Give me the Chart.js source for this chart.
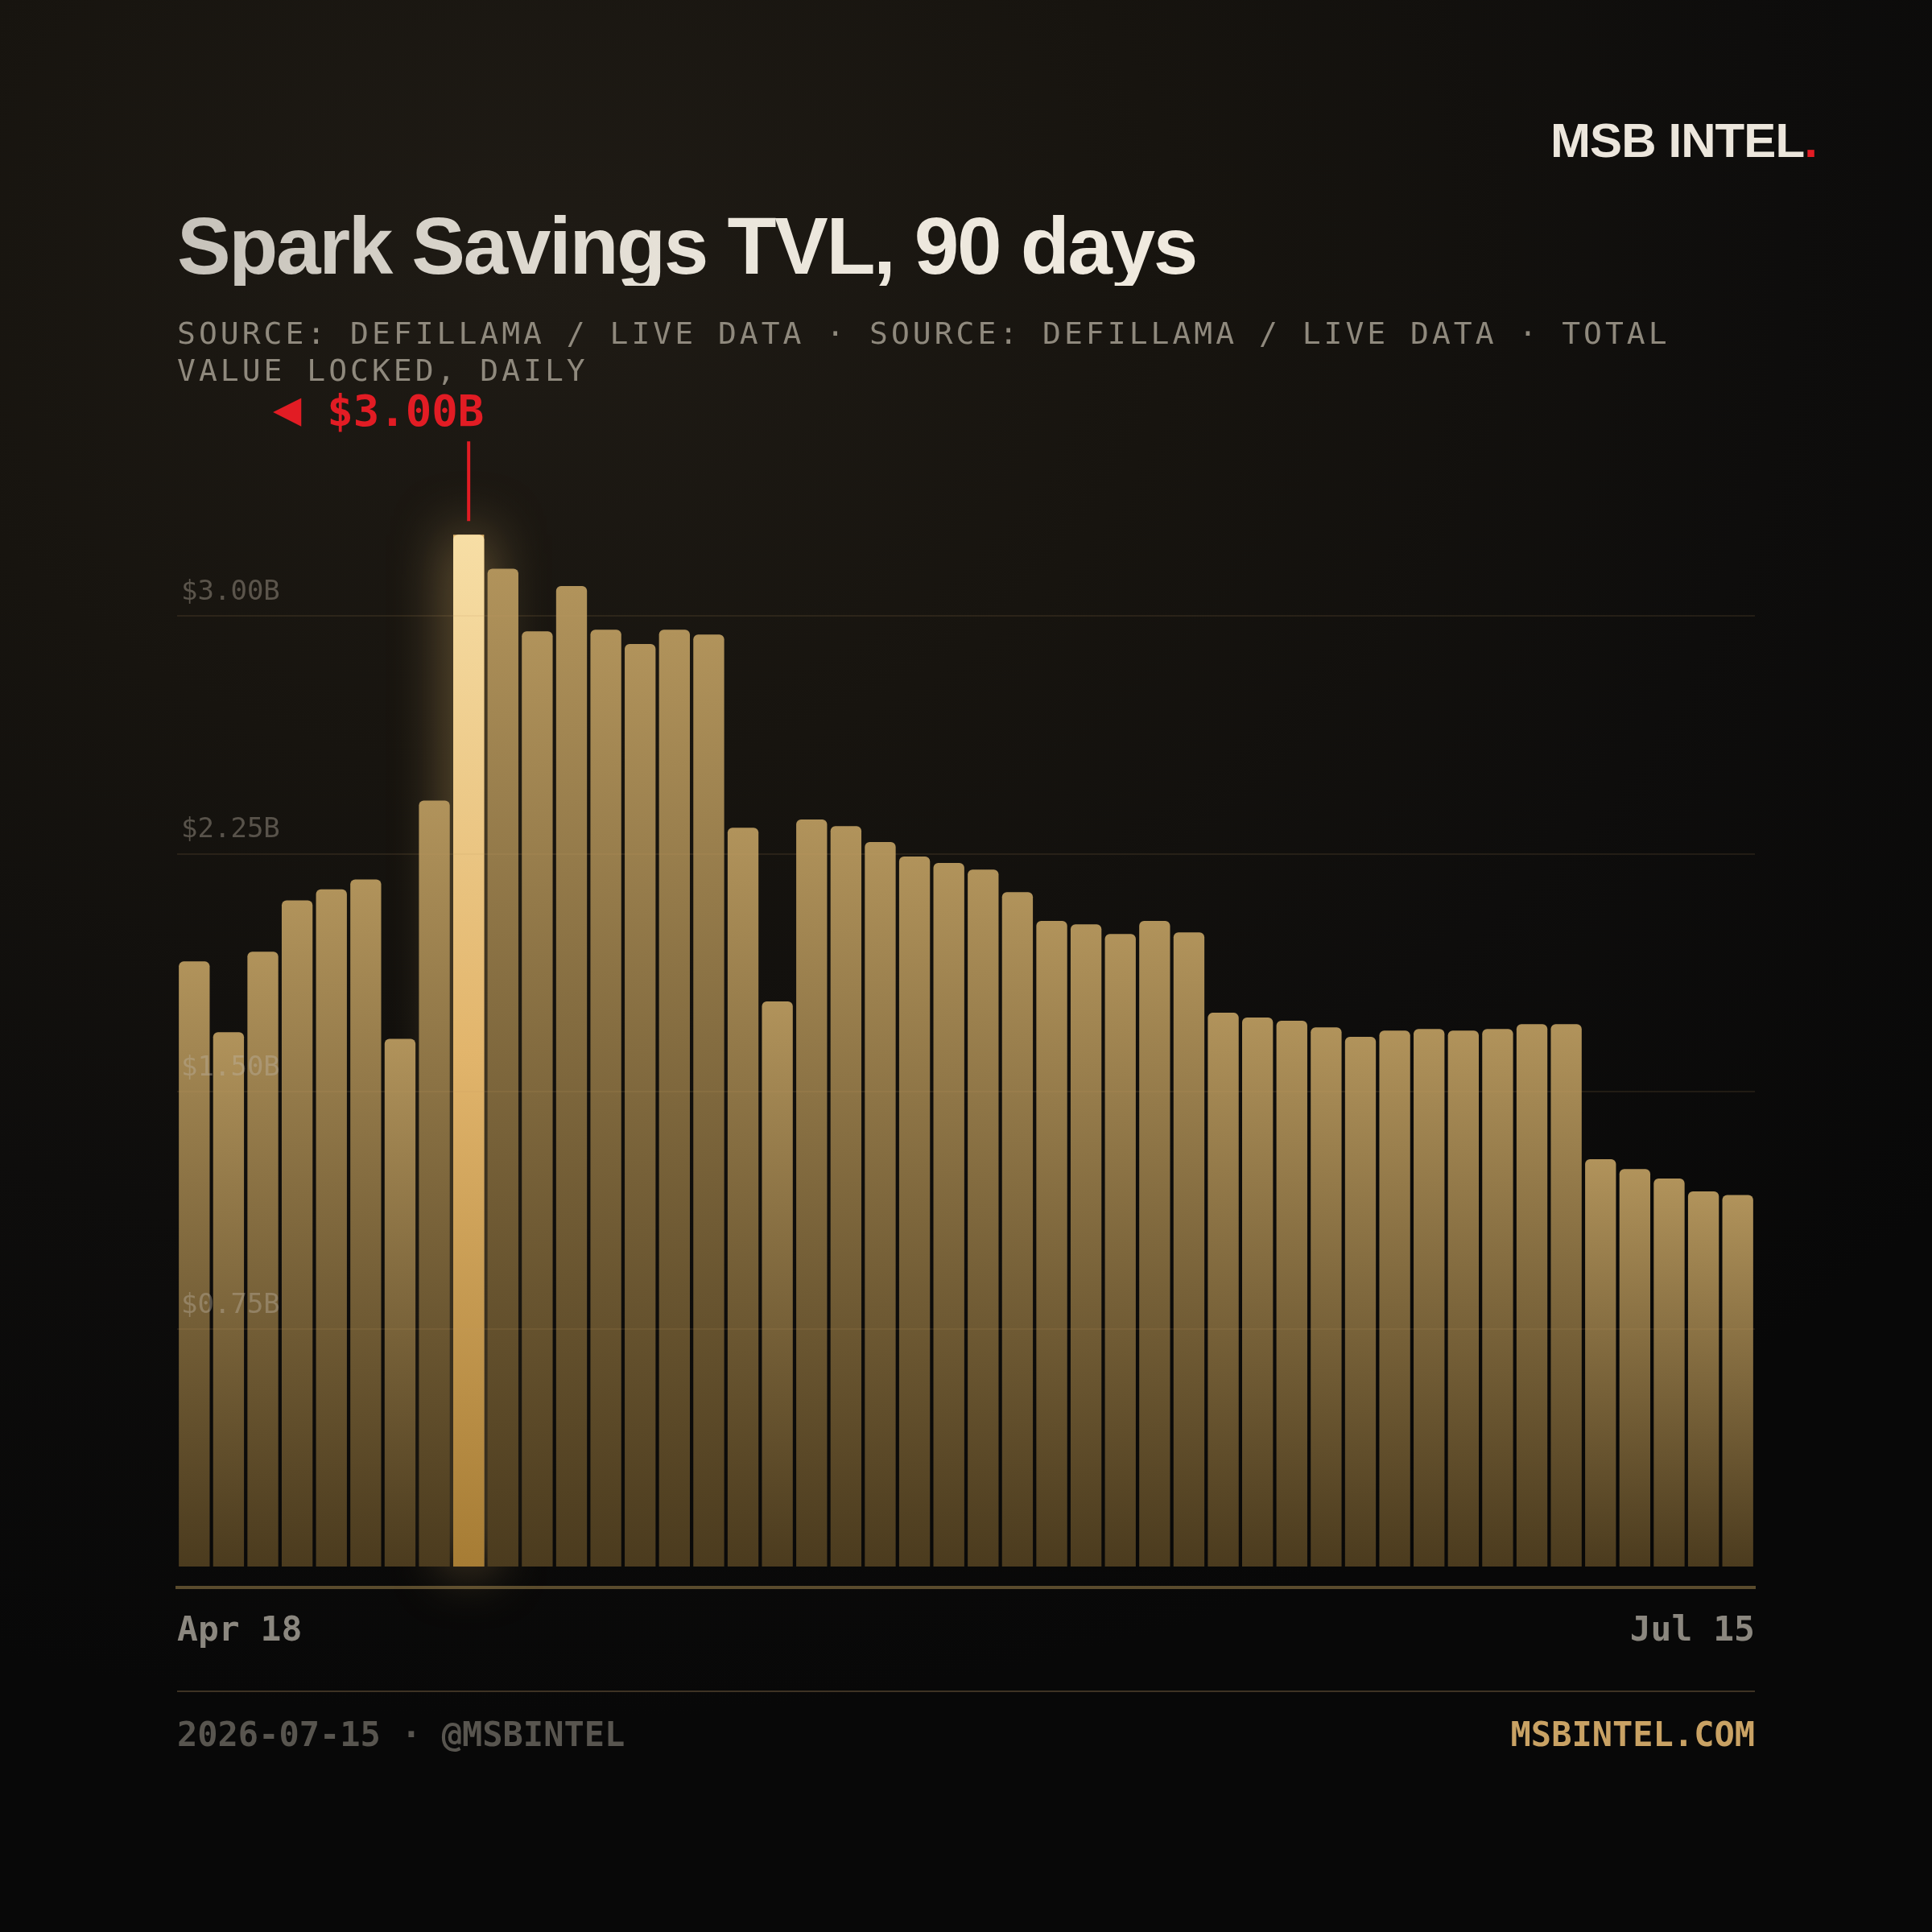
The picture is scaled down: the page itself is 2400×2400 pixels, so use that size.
<!DOCTYPE html>
<html>
<head>
<meta charset="utf-8">
<script src="https://cdn.jsdelivr.net/npm/chart.js@4.4.0/dist/chart.umd.js"></script>
<style>
    html, body {
        margin: 0;
        padding: 0;
    }
    body {
        width: 2400px;
        height: 2400px;
        position: relative;
        overflow: hidden;
        background: #080808;
        background-image: radial-gradient(ellipse 95% 75% at 28% 14%, #1f1b15 0%, #17140f 35%, #0e0d0c 68%, #080808 100%);
    }
    .chart-wrap {
        position: absolute;
        left: 0;
        top: 0;
        width: 2400px;
        height: 2400px;
    }
    .logo {
        position: absolute;
        right: 143px;
        top: 145px;
        font-family: "Liberation Sans", Arial, sans-serif;
        font-weight: bold;
        font-size: 60px;
        line-height: 1;
        letter-spacing: -0.9px;
        color: #ece6dc;
        white-space: nowrap;
    }
    .logo span {
        color: #e21c24;
    }
    .title {
        position: absolute;
        left: 220px;
        top: 255px;
        font-family: "Liberation Sans", Arial, sans-serif;
        font-weight: bold;
        font-size: 100px;
        line-height: 1;
        letter-spacing: -2.4px;
        white-space: nowrap;
        background: linear-gradient(90deg, #c6c2ba 0%, #ebe6dc 55%, #f0eadf 100%);
        -webkit-background-clip: text;
        background-clip: text;
        color: transparent;
    }
    .subtitle {
        position: absolute;
        left: 220px;
        top: 391px;
        font-family: "DejaVu Sans Mono", monospace;
        font-size: 38px;
        line-height: 46px;
        letter-spacing: 4px;
        color: #8f897d;
        white-space: nowrap;
    }
    .footer-rule {
        position: absolute;
        left: 220px;
        top: 2100px;
        width: 1960px;
        height: 2px;
        background: #3e3324;
    }
    .footer {
        position: absolute;
        top: 2134px;
        font-family: "DejaVu Sans Mono", monospace;
        font-weight: bold;
        font-size: 42px;
        line-height: 1;
        white-space: nowrap;
    }
    .footer.left {
        left: 220px;
        color: #58554f;
    }
    .footer.right {
        right: 220px;
        color: #c9a264;
    }
</style>
</head>
<body>
<div class="chart-wrap"><canvas id="tvlChart"></canvas></div>
<div class="logo">MSB INTEL<span>.</span></div>
<div class="title">Spark Savings TVL, 90 days</div>
<div class="subtitle">SOURCE: DEFILLAMA / LIVE DATA · SOURCE: DEFILLAMA / LIVE DATA · TOTAL<br>VALUE LOCKED, DAILY</div>
<div class="footer-rule"></div>
<div class="footer left">2026-07-15 · @MSBINTEL</div>
<div class="footer right">MSBINTEL.COM</div>

<script>
(function() {
    'use strict';

    // Daily snapshots (every other day), Apr 18 -> Jul 15
    const dates = [
        'Apr 18', 'Apr 20', 'Apr 22', 'Apr 24', 'Apr 26', 'Apr 28', 'Apr 30',
        'May 2', 'May 4', 'May 6', 'May 8', 'May 10', 'May 12', 'May 14', 'May 16',
        'May 18', 'May 20', 'May 22', 'May 24', 'May 26', 'May 28', 'May 30',
        'Jun 1', 'Jun 3', 'Jun 5', 'Jun 7', 'Jun 9', 'Jun 11', 'Jun 13', 'Jun 15',
        'Jun 17', 'Jun 19', 'Jun 21', 'Jun 23', 'Jun 25', 'Jun 27', 'Jun 29',
        'Jul 1', 'Jul 3', 'Jul 5', 'Jul 7', 'Jul 9', 'Jul 11', 'Jul 13', 'Jul 14', 'Jul 15'
    ];

    // TVL in billions of USD
    const tvl = [
        1.910, 1.687, 1.941, 2.103, 2.138, 2.169, 1.666, 2.418,
        3.257, 3.150, 2.952, 3.095, 2.957, 2.912, 2.957, 2.942,
        2.332, 1.784, 2.358, 2.337, 2.287, 2.241, 2.221, 2.200,
        2.129, 2.038, 2.027, 1.997, 2.038, 2.002,
        1.748, 1.733, 1.723, 1.702, 1.672, 1.692, 1.697, 1.692, 1.697, 1.712, 1.712,
        1.286, 1.255, 1.225, 1.184, 1.173
    ];

    const yTicks = [0.75, 1.50, 2.25, 3.00];
    const xTickLabels = [dates[0], dates[dates.length - 1]];
    const peakLabel = '$3.00B';

    const peakIndex = tvl.indexOf(Math.max.apply(null, tvl));
    const monoFont = '"DejaVu Sans Mono", monospace';

    function barFill(context) {
        const chart = context.chart;
        const area = chart.chartArea;
        if (!area || context.type !== 'data') return '#a08050';
        const yScale = chart.scales.y;
        const top = yScale.getPixelForValue(context.raw);
        const base = yScale.getPixelForValue(0);
        const g = chart.ctx.createLinearGradient(0, top, 0, base);
        if (context.dataIndex === peakIndex) {
            g.addColorStop(0, '#f7dea5');
            g.addColorStop(0.5, '#e2b56c');
            g.addColorStop(1, '#a67c34');
        } else {
            g.addColorStop(0, '#b1935b');
            g.addColorStop(1, '#4b3b1e');
        }
        return g;
    }

    // glow under the peak bar, red marker + label above it
    const peakMarker = {
        id: 'peakMarker',
        beforeDatasetsDraw(chart) {
            const bar = chart.getDatasetMeta(0).data[peakIndex];
            if (!bar) return;
            const ctx = chart.ctx;
            ctx.save();
            ctx.shadowColor = 'rgba(240, 195, 115, 0.55)';
            ctx.shadowBlur = 70;
            ctx.fillStyle = '#e2b56c';
            ctx.fillRect(bar.x - bar.width / 2, bar.y, bar.width, bar.base - bar.y);
            ctx.restore();
        },
        afterDraw(chart) {
            const bar = chart.getDatasetMeta(0).data[peakIndex];
            if (!bar) return;
            const ctx = chart.ctx;
            const red = '#e21c24';
            ctx.save();
            ctx.strokeStyle = red;
            ctx.lineWidth = 4;
            ctx.beginPath();
            ctx.moveTo(bar.x, bar.y - 17);
            ctx.lineTo(bar.x, bar.y - 116);
            ctx.stroke();

            const right = bar.x + bar.width / 2;
            const baseline = bar.y - 135;
            ctx.fillStyle = red;
            ctx.textAlign = 'right';
            ctx.textBaseline = 'alphabetic';
            ctx.font = 'bold 54px ' + monoFont;
            ctx.fillText(peakLabel, right, baseline);
            const w = ctx.measureText(peakLabel).width;
            ctx.font = '46px "DejaVu Sans", sans-serif';
            ctx.textBaseline = 'middle';
            ctx.fillText('◀', right - w - 32, baseline - 17);
            ctx.restore();
        }
    };

    const ctx = document.getElementById('tvlChart').getContext('2d');

    new Chart(ctx, {
        type: 'bar',
        data: {
            labels: dates,
            datasets: [{
                label: 'TVL',
                data: tvl,
                backgroundColor: barFill,
                borderRadius: 6,
                borderSkipped: 'start',
                barPercentage: 0.9,
                categoryPercentage: 1.0
            }]
        },
        options: {
            responsive: true,
            maintainAspectRatio: false,
            animation: false,
            layout: {
                padding: { left: 220, right: 220, top: 608, bottom: 352 }
            },
            plugins: {
                legend: { display: false },
                tooltip: { enabled: false }
            },
            scales: {
                x: {
                    display: false
                },
                x2: {
                    type: 'category',
                    labels: xTickLabels,
                    position: 'bottom',
                    offset: false,
                    grid: { display: false, drawTicks: false },
                    border: { display: true, color: '#5a4b2d', width: 4 },
                    afterFit(scale) {
                        scale.height = 76;
                    },
                    ticks: {
                        align: 'inner',
                        autoSkip: false,
                        maxRotation: 0,
                        padding: 29,
                        color: '#8b877f',
                        font: { family: monoFont, size: 43, weight: 'bold' }
                    }
                },
                y: {
                    min: -0.066,
                    max: 3.4,
                    afterFit(scale) {
                        scale.width = 0;
                    },
                    afterBuildTicks(scale) {
                        scale.ticks = yTicks.map(v => ({ value: v }));
                    },
                    grid: {
                        z: 1,
                        color: 'rgba(200, 160, 100, 0.12)',
                        lineWidth: 2,
                        drawTicks: false
                    },
                    border: { display: false },
                    ticks: {
                        z: 1,
                        mirror: true,
                        padding: 5,
                        labelOffset: -29,
                        color: 'rgba(190, 180, 165, 0.4)',
                        font: { family: monoFont, size: 34 },
                        callback: function(value) {
                            return '$' + Number(value).toFixed(2) + 'B';
                        }
                    }
                }
            }
        },
        plugins: [peakMarker]
    });
})();
</script>
</body>
</html>
